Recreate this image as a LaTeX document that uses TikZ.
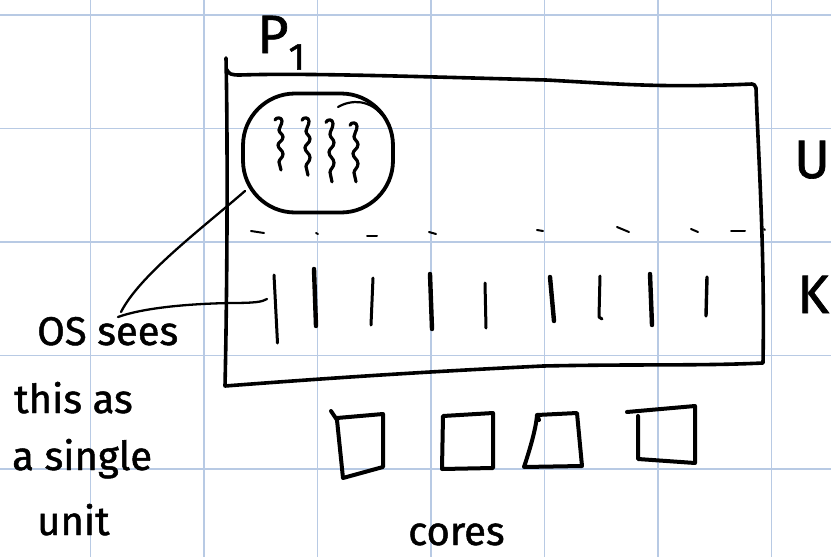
\documentclass[tikz,border=0pt]{standalone}
\usepackage{fontspec}
\setmainfont{Fira Sans}
\newfontfamily\handfont[FakeBold=1.2]{Fira Sans}
\definecolor{gridblue}{RGB}{184,202,228}
\begin{document}
\begin{tikzpicture}[x=1pt,y=-1pt,
  ink/.style={black,line cap=round,line join=round},
  gridline/.style={gridblue,line width=1.2pt},
  frame/.style={ink,line width=3.6pt},
  thin tick/.style={ink,line width=3pt},
  thick tick/.style={ink,line width=4.4pt},
  dashmark/.style={ink,line width=2pt},
  leader/.style={ink,line width=2.3pt},
  corebox/.style={ink,line width=4pt},
  hand/.style={inner sep=0pt,anchor=base west,font=\handfont\fontsize{40}{40}\selectfont},
  bigletter/.style={inner sep=0pt,anchor=base west,font=\handfont\fontsize{54}{54}\selectfont},
  squiggle/.pic={
    \draw[ink,line width=3.2pt] (-4,2) .. controls (-3,-1) and (3,-1) .. (3,3)
      .. controls (3,7) and (0,9) .. (0,12) .. controls (0,15) and (4,16) .. (4,19)
      .. controls (4,23) and (-1,24) .. (-1,27) .. controls (-1,31) and (4,32) .. (4,36)
      .. controls (4,40) and (0,41) .. (0,44) .. controls (0,47) and (2,49) .. (2,52);
  }]
\useasboundingbox (0,0) rectangle (831,557);
\fill[white] (0,0) rectangle (831,557);

% squared paper
\foreach \gx in {90.5,204,317.5,431,544.5,658,771.5}
  \draw[gridline] (\gx,0) -- (\gx,557);
\foreach \gy in {15,128.5,242,355.5,469}
  \draw[gridline] (0,\gy) -- (831,\gy);

% process box P1
\draw[frame] (226,58) .. controls (228,150) and (227,300) .. (225,386)
  .. controls (330,378) and (420,372) .. (543,366)
  .. controls (640,364) and (700,366) .. (763,363)
  .. controls (765,250) and (758,150) .. (756,88)
  .. controls (755,85) and (754,84) .. (752,84)
  .. controls (660,88) and (620,84) .. (546,80)
  .. controls (400,76) and (300,73) .. (240,75)
  .. controls (231,75) and (229,74) .. (227,70);

% user-level threads grouped together
\node[draw,ink,line width=3.8pt,rounded corners=52pt,minimum width=150pt,
      minimum height=119pt,inner sep=0pt] (blob) at (318,153) {};
\draw[ink,line width=2.2pt] (338,107) .. controls (352,99) and (370,100) .. (382,115);
\pic at (279,118) {squiggle};
\pic[yscale=1.1] at (306,118) {squiggle};
\pic[yscale=1.19] at (330,120) {squiggle};
\pic[yscale=1.13] at (354,123) {squiggle};

% user / kernel boundary
\foreach \ax/\ay/\bx/\by in {251/231/264/233, 316/233/318/234, 367/236/377/236,
    429/232/436/234, 537/230/543/231, 617/227/629/232, 691/229/698/232,
    731/231/745/231, 764/229/765/230}
  \draw[dashmark] (\ax,\ay) -- (\bx,\by);

% kernel threads
\coordinate (kt1) at (267,299);
\draw[thin tick]  (274,275) -- (277.5,343);
\draw[thick tick] (314,269) -- (316,326);
\draw[thin tick]  (373,278) -- (371,325);
\draw[thick tick] (430,274) -- (432,329);
\draw[thin tick]  (485,283) -- (486,328);
\draw[thick tick] (550,277) -- (554,321);
\draw[thin tick]  (600,276) -- (599,317) -- (602,319);
\draw[thick tick] (650,274) -- (652,325);
\draw[ink,line width=3.4pt] (707,277) -- (706,316);

% annotation and its leaders
\coordinate (blobfoot) at (245,191);
\coordinate (joinA) at (121,312);
\coordinate (joinB) at (118,317);
\draw[leader] (blobfoot) .. controls (200,230) and (140,275) .. (joinA);
\draw[leader] (kt1) .. controls (262,302) and (255,303) .. (230,303)
  .. controls (180,304) and (140,309) .. (joinB);
\node[hand] (osSees) at (37,345) {OS sees};
\node[hand] (thisAs) at (14,413) {this as};
\node[hand] (aSingle) at (12,470) {a single};
\node[hand] (unitLbl) at (37,535) {unit};

% labels
\node[bigletter] (pLbl) at (257,53) {P\textsubscript{1}};
\node[bigletter] (uLbl) at (794,178) {U};
\node[bigletter] (kLbl) at (797,313) {K};

% cores
\draw[corebox] (331,411) -- (337,420) -- (343,478) -- (383,467) -- (383,414) -- (337,418);
\draw[corebox] (443,416) -- (493,413) -- (493,468) -- (442,469) -- cycle;
\draw[corebox] (539,420) -- (537,415) -- (577,413) -- (582,466) -- (524,467)
  .. controls (528,455) and (536,430) .. (537,415);
\draw[corebox] (627,412) -- (695,406) -- (695,463) -- (638,459) -- (638,416);
\node[hand] (coresLbl) at (408,545) {cores};
\end{tikzpicture}
\end{document}
